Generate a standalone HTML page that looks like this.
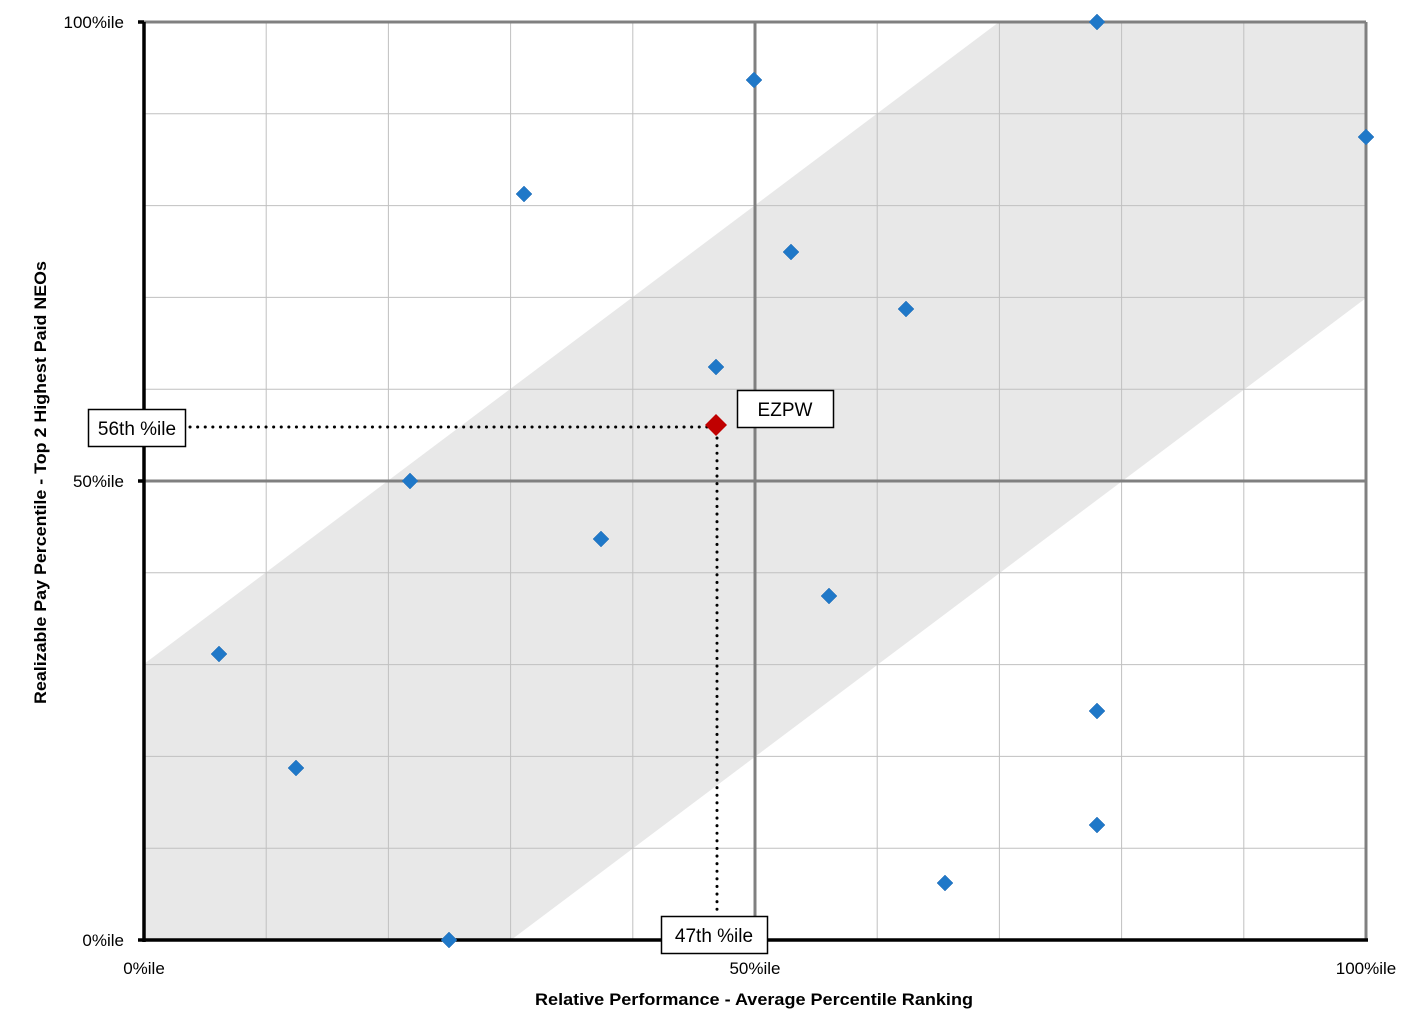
<!DOCTYPE html>
<html><head><meta charset="utf-8"><style>html,body{margin:0;padding:0;background:#fff}svg{display:block}</style></head><body>
<svg width="1422" height="1033" xmlns="http://www.w3.org/2000/svg" font-family="Liberation Sans, sans-serif">
<rect x="0" y="0" width="1422" height="1033" fill="#fff"/>
<polygon points="144,664 999,22 1366,22 1366,298 511,940 144,940" fill="#e8e8e8"/>
<g stroke="#c0c0c0" stroke-width="1">
<line x1="266.2" y1="22" x2="266.2" y2="940"/><line x1="388.4" y1="22" x2="388.4" y2="940"/><line x1="510.6" y1="22" x2="510.6" y2="940"/><line x1="632.8" y1="22" x2="632.8" y2="940"/>
<line x1="877.2" y1="22" x2="877.2" y2="940"/><line x1="999.4" y1="22" x2="999.4" y2="940"/><line x1="1121.6" y1="22" x2="1121.6" y2="940"/><line x1="1243.8" y1="22" x2="1243.8" y2="940"/>
<line x1="144" y1="113.8" x2="1366" y2="113.8"/><line x1="144" y1="205.6" x2="1366" y2="205.6"/><line x1="144" y1="297.4" x2="1366" y2="297.4"/><line x1="144" y1="389.2" x2="1366" y2="389.2"/>
<line x1="144" y1="572.8" x2="1366" y2="572.8"/><line x1="144" y1="664.6" x2="1366" y2="664.6"/><line x1="144" y1="756.4" x2="1366" y2="756.4"/><line x1="144" y1="848.2" x2="1366" y2="848.2"/>
</g>
<g stroke="#808080" stroke-width="3">
<line x1="755" y1="22" x2="755" y2="940"/><line x1="144" y1="481" x2="1366" y2="481"/>
<line x1="144" y1="22" x2="1366" y2="22"/><line x1="1366" y1="22" x2="1366" y2="940"/>
</g>
<g stroke="#000" stroke-width="3.5">
<line x1="144" y1="22" x2="144" y2="942"/><line x1="138" y1="940" x2="1368" y2="940"/>
<line x1="138" y1="22" x2="144" y2="22"/><line x1="138" y1="481" x2="144" y2="481"/>
</g>
<g stroke="#000" stroke-width="3" stroke-dasharray="0.1,7.5" stroke-linecap="round">
<line x1="190" y1="427" x2="708" y2="427"/><line x1="717" y1="438" x2="717" y2="914"/>
</g>
<g fill="#1f78c8" stroke="#2a6fb5" stroke-width="0.5">
<path d="M219,646l8,8l-8,8l-8,-8z"/><path d="M296,760l8,8l-8,8l-8,-8z"/><path d="M410,473l8,8l-8,8l-8,-8z"/>
<path d="M449,932l8,8l-8,8l-8,-8z"/><path d="M524,186l8,8l-8,8l-8,-8z"/><path d="M601,531l8,8l-8,8l-8,-8z"/>
<path d="M716,359l8,8l-8,8l-8,-8z"/><path d="M754,72l8,8l-8,8l-8,-8z"/><path d="M791,244l8,8l-8,8l-8,-8z"/>
<path d="M829,588l8,8l-8,8l-8,-8z"/><path d="M906,301l8,8l-8,8l-8,-8z"/><path d="M945,875l8,8l-8,8l-8,-8z"/>
<path d="M1097,14l8,8l-8,8l-8,-8z"/><path d="M1097,703l8,8l-8,8l-8,-8z"/><path d="M1097,817l8,8l-8,8l-8,-8z"/>
<path d="M1366,129l8,8l-8,8l-8,-8z"/>
</g>
<path d="M716,414l11,11l-11,11l-11,-11z" fill="#c00000"/>
<g fill="#fff" stroke="#000" stroke-width="1.5">
<rect x="737.5" y="390.5" width="96" height="37"/>
<rect x="88.5" y="409.5" width="97" height="37"/>
<rect x="661.5" y="916.5" width="106" height="37"/>
</g>
<g font-size="19" fill="#000" text-anchor="middle">
<text x="785" y="416">EZPW</text>
<text x="137" y="435">56th %ile</text>
<text x="714" y="942">47th %ile</text>
</g>
<g font-size="17" fill="#000" text-anchor="end">
<text x="124" y="28">100%ile</text><text x="124" y="487">50%ile</text><text x="124" y="946">0%ile</text>
</g>
<g font-size="17" fill="#000" text-anchor="middle">
<text x="144" y="974">0%ile</text><text x="755" y="974">50%ile</text><text x="1366" y="974">100%ile</text>
</g>
<text x="535" y="1005" font-size="17" font-weight="bold" textLength="438" lengthAdjust="spacingAndGlyphs">Relative Performance - Average Percentile Ranking</text>
<text transform="translate(46,704) rotate(-90)" font-size="17" font-weight="bold" textLength="443" lengthAdjust="spacingAndGlyphs">Realizable Pay Percentile - Top 2 Highest Paid NEOs</text>
</svg>
</body></html>
